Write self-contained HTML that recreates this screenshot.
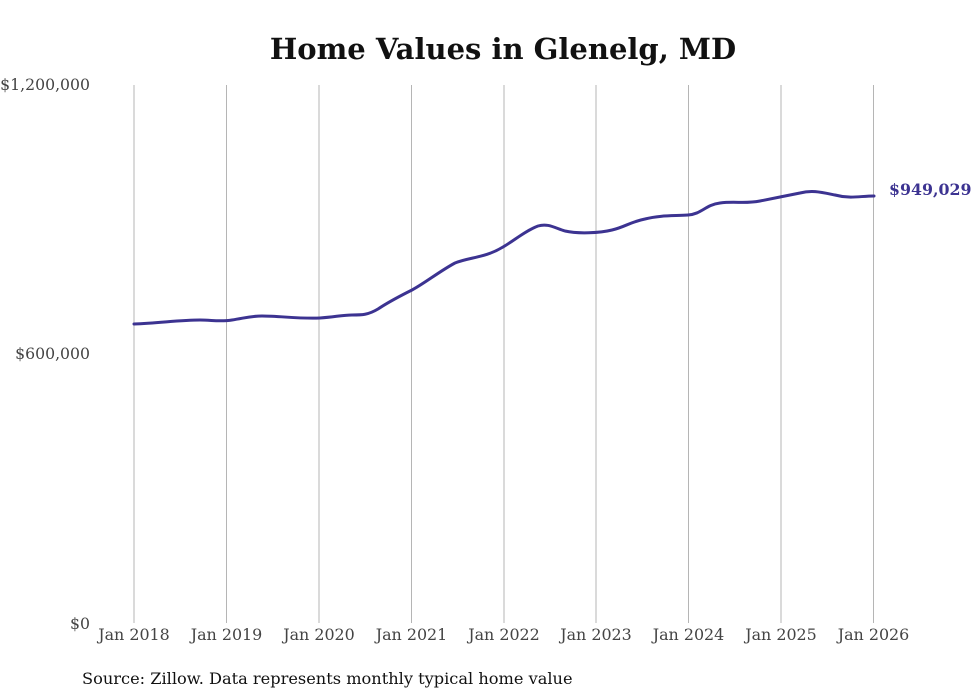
<!DOCTYPE html>
<html><head><meta charset="utf-8"><style>
body{margin:0;background:#fff;}
svg{display:block;}
</style></head><body>
<svg width="980" height="699" viewBox="0 0 980 699" xmlns="http://www.w3.org/2000/svg">
<rect width="980" height="699" fill="#fff"/>
<text x="503" y="59" text-anchor="middle" font-family="DejaVu Serif, serif" font-weight="bold" font-size="29" fill="#111">Home Values in Glenelg, MD</text>
<g stroke="#b5b5b5" stroke-width="1">
<line x1="134" y1="85" x2="134" y2="623"/>
<line x1="226.5" y1="85" x2="226.5" y2="623"/>
<line x1="319" y1="85" x2="319" y2="623"/>
<line x1="411.5" y1="85" x2="411.5" y2="623"/>
<line x1="504" y1="85" x2="504" y2="623"/>
<line x1="596" y1="85" x2="596" y2="623"/>
<line x1="688.5" y1="85" x2="688.5" y2="623"/>
<line x1="781" y1="85" x2="781" y2="623"/>
<line x1="873.5" y1="85" x2="873.5" y2="623"/>
</g>
<g font-family="DejaVu Serif, serif" font-size="15.7" fill="#444" text-anchor="end">
<text x="90" y="90">$1,200,000</text>
<text x="90" y="359">$600,000</text>
<text x="90" y="629">$0</text>
</g>
<g font-family="DejaVu Serif, serif" font-size="15.9" fill="#444" text-anchor="middle">
<text x="134" y="640">Jan 2018</text>
<text x="226.5" y="640">Jan 2019</text>
<text x="319" y="640">Jan 2020</text>
<text x="411.5" y="640">Jan 2021</text>
<text x="504" y="640">Jan 2022</text>
<text x="596" y="640">Jan 2023</text>
<text x="688.5" y="640">Jan 2024</text>
<text x="781" y="640">Jan 2025</text>
<text x="873.5" y="640">Jan 2026</text>
</g>
<path d="M134,324 C160,323 180,320 200,320 C212,320 220,322 232,320 C245,318 250,316 262,316 C280,316 300,319 320,318 C335,317 342,315 352,315 C362,315 368,315 378,309 C390,301 400,296 412,290 C425,283 440,271 455,263 C470,257 485,258 503,247 C515,240 525,231 538,226 C548,223 555,228 565,231 C578,234 600,233 612,230 C625,227 630,222 645,219 C660,215 675,216 688,215 C702,214 705,205 720,203 C735,201 745,204 760,201 C775,198 785,196 800,193 C812,190 820,192 835,195 C850,199 860,196 874,196" fill="none" stroke="#3c3391" stroke-width="3" stroke-linecap="round"/>
<text x="889" y="195" font-family="DejaVu Serif, serif" font-weight="bold" font-size="15.8" fill="#3c3391">$949,029</text>
<text x="82" y="684" font-family="DejaVu Serif, serif" font-size="16.2" fill="#111">Source: Zillow. Data represents monthly typical home value</text>
</svg>
</body></html>
